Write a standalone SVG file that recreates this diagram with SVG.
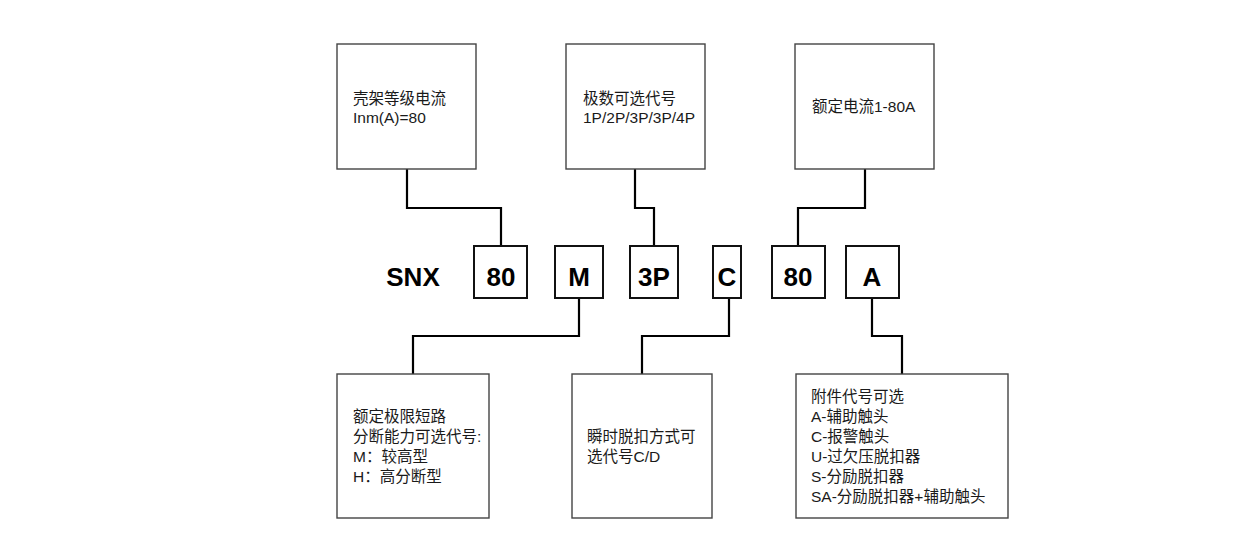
<svg xmlns="http://www.w3.org/2000/svg" width="1240" height="546" viewBox="0 0 1240 546">
<style>
.bg{fill:#ffffff}
.box{fill:#ffffff;stroke:#444444;stroke-width:1.4}
.code{fill:#ffffff;stroke:#111111;stroke-width:2}
.wire{fill:none;stroke:#000000;stroke-width:2.2}
.t{font-family:"Liberation Sans","Noto Sans CJK SC",sans-serif;font-size:15.5px;fill:#1a1a1a}
.c{font-family:"Liberation Sans","Noto Sans CJK SC",sans-serif;font-size:26px;font-weight:bold;fill:#000000;text-anchor:middle}
</style>
<rect class="bg" x="0" y="0" width="1240" height="546"/>
<g id="connectors">
<polyline class="wire" points="407,169 407,208 501,208 501,246"/>
<polyline class="wire" points="635,169 635,208 654,208 654,246"/>
<polyline class="wire" points="865,169 865,208 798,208 798,246"/>
<polyline class="wire" points="579,298 579,336 413,336 413,374"/>
<polyline class="wire" points="729,298 729,336 642,336 642,374"/>
<polyline class="wire" points="872,298 872,336 902,336 902,374"/>
</g>
<g id="top-frame">
<rect class="box" x="337" y="44" width="139" height="125"/>
<text class="t" x="353" y="104">壳架等级电流</text>
<text class="t" x="353" y="123">Inm(A)=80</text>
</g>
<g id="top-poles">
<rect class="box" x="566" y="44" width="139" height="125"/>
<text class="t" x="583" y="104">极数可选代号</text>
<text class="t" x="583" y="123">1P/2P/3P/3P/4P</text>
</g>
<g id="top-current">
<rect class="box" x="795" y="44" width="139" height="125"/>
<text class="t" x="812" y="112">额定电流1-80A</text>
</g>
<g id="snx">
<text class="c" x="413" y="286">SNX</text>
</g>
<g id="code-80a">
<rect class="code" x="474" y="246" width="53" height="52"/>
<text class="c" x="501" y="286">80</text>
</g>
<g id="code-m">
<rect class="code" x="555" y="246" width="48" height="52"/>
<text class="c" x="579" y="286">M</text>
</g>
<g id="code-3p">
<rect class="code" x="630" y="246" width="48" height="52"/>
<text class="c" x="654" y="286">3P</text>
</g>
<g id="code-c">
<rect class="code" x="713" y="246" width="28" height="52"/>
<text class="c" x="727" y="286">C</text>
</g>
<g id="code-80b">
<rect class="code" x="772" y="246" width="53" height="52"/>
<text class="c" x="798" y="286">80</text>
</g>
<g id="code-a">
<rect class="code" x="846" y="246" width="53" height="52"/>
<text class="c" x="872" y="286">A</text>
</g>
<g id="bottom-breaking">
<rect class="box" x="337" y="374" width="152" height="144"/>
<text class="t" x="353" y="422">额定极限短路</text>
<text class="t" x="353" y="442">分断能力可选代号:</text>
<text class="t" x="353" y="462">M：较高型</text>
<text class="t" x="353" y="482">H：高分断型</text>
</g>
<g id="bottom-trip">
<rect class="box" x="572" y="374" width="140" height="144"/>
<text class="t" x="587" y="442">瞬时脱扣方式可</text>
<text class="t" x="587" y="462">选代号C/D</text>
</g>
<g id="bottom-accessory">
<rect class="box" x="796" y="374" width="212" height="144"/>
<text class="t" x="811" y="402">附件代号可选</text>
<text class="t" x="811" y="422">A-辅助触头</text>
<text class="t" x="811" y="442">C-报警触头</text>
<text class="t" x="811" y="462">U-过欠压脱扣器</text>
<text class="t" x="811" y="482">S-分励脱扣器</text>
<text class="t" x="811" y="502">SA-分励脱扣器+辅助触头</text>
</g>
</svg>
